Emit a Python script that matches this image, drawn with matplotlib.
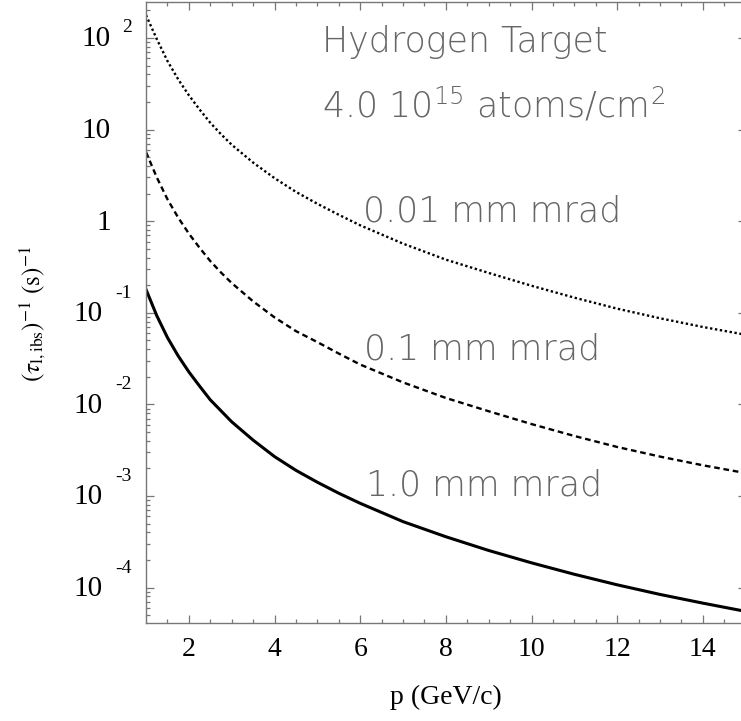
import numpy as np
import matplotlib
matplotlib.use("Agg")
import matplotlib.pyplot as plt

plt.rcParams['mathtext.fontset'] = 'stix'
plt.rcParams['font.family'] = ['Liberation Serif', 'DejaVu Serif']

# ---- data (log10 of the rate, 1/s) ----
p_gev = [1.0, 1.25, 1.5, 1.75, 2.0, 2.25, 2.5, 2.75, 3.0, 3.5, 4.0, 4.5, 5.0, 5.5,
         6.0, 7.0, 8.0, 9.0, 10.0, 11.0, 12.0, 13.0, 14.0, 15.0]
log_rate_001 = [2.25, 1.99, 1.75, 1.55, 1.375, 1.22, 1.075, 0.95, 0.835, 0.64, 0.47,
                0.32, 0.19, 0.07, -0.045, -0.245, -0.42, -0.565, -0.705, -0.835,
                -0.955, -1.06, -1.155, -1.24]
log_rate_01 = [0.755, 0.48, 0.24, 0.04, -0.135, -0.29, -0.435, -0.56, -0.675, -0.875,
               -1.05, -1.20, -1.32, -1.445, -1.565, -1.76, -1.93, -2.075, -2.215,
               -2.345, -2.465, -2.57, -2.665, -2.75]
log_rate_10 = [-0.745, -1.03, -1.27, -1.47, -1.645, -1.80, -1.95, -2.07, -2.19, -2.39,
               -2.57, -2.72, -2.85, -2.97, -3.08, -3.28, -3.445, -3.595, -3.73,
               -3.855, -3.97, -4.075, -4.17, -4.26]

curve_labels = ["0.01 mm mrad", "0.1 mm mrad", "1.0 mm mrad"]
title_lines = ["Hydrogen Target", r"4.0 10$^{\mathregular{15}}$ atoms/cm$^{\mathregular{2}}$"]

xtick_vals = [2, 4, 6, 8, 10, 12, 14]
ytick_vals = [1e-4, 1e-3, 1e-2, 1e-1, 1, 10, 100]
ytick_base = ["10", "10", "10", "10", "1", "10", "10"]
ytick_exp = ["-4", "-3", "-2", "-1", "", "", "2"]

xlabel = "p (GeV/c)"
ylabel = r"$(\tau_{\mathrm{l,ibs}})^{-1}\ (\mathrm{s})^{-1}$"

# ---- figure ----
W, H = 741, 721
fig = plt.figure(figsize=(W / 100, H / 100), dpi=100)
ax_l, ax_r, ax_t, ax_b = 146, 745.75, 2, 623.3
ax = fig.add_axes([ax_l / W, 1 - ax_b / H, (ax_r - ax_l) / W, (ax_b - ax_t) / H])

p = np.array(p_gev)
ax.plot(p, 10 ** np.array(log_rate_001), color='black', lw=1.7, ls=(0, (1, 1.1)))
ax.plot(p, 10 ** np.array(log_rate_01), color='black', lw=1.7, ls=(0, (2.4, 1.6)))
ax.plot(p, 10 ** np.array(log_rate_10), color='black', lw=2.2, ls='-')

ax.set_yscale('log')
ax.set_xlim(1, 15)
ymin_log, ymax_log = -4.39, 2.393
ax.set_ylim(10 ** ymin_log, 10 ** ymax_log)

spine_col = '#777777'
for s in ax.spines.values():
    s.set_color(spine_col)
    s.set_linewidth(1.0)

ax.set_xticks(xtick_vals)
ax.set_xticks(np.arange(1.5, 15, 0.5), minor=True)
ax.tick_params(axis='both', which='both', direction='in', top=True, right=True,
               color=spine_col, width=0.9)
ax.tick_params(axis='both', which='major', length=6)
ax.tick_params(axis='both', which='minor', length=3)
ax.tick_params(axis='x', which='major', labelsize=20, pad=10)
ax.set_yticks(ytick_vals)
ax.set_yticklabels([""] * len(ytick_vals))
ax.yaxis.set_minor_formatter(matplotlib.ticker.NullFormatter())


def fig_xy(px, py):
    return px / W, 1 - py / H


# y tick labels placed as base + exponent
for v, b, e in zip(ytick_vals, ytick_base, ytick_exp):
    py = ax_b - (np.log10(v) - ymin_log) / (ymax_log - ymin_log) * (ax_b - ax_t)
    if e.startswith('-'):
        base_right, exp_dy = 103, 21
    else:
        base_right, exp_dy = 111, 12
    fig.text(*fig_xy(base_right, py + 1.5), b, ha='right', va='center', fontsize=21)
    if e:
        fig.text(*fig_xy(132, py + 1.5 - exp_dy), e, ha='right', va='center', fontsize=14)

fig.text(*fig_xy(446, 697), xlabel, ha='center', va='center', fontsize=20)
fig.text(*fig_xy(33, 314), ylabel, ha='center', va='center', rotation=90, fontsize=18)

ann_kw = dict(color='#666666', fontsize=25, fontweight=200,
              family=['DejaVu Sans'], va='baseline', ha='left')
fig.text(*fig_xy(321.7, 51.7), title_lines[0], **ann_kw)
fig.text(*fig_xy(321.7, 116.7), title_lines[1], **ann_kw)
fig.text(*fig_xy(363, 221.7), curve_labels[0], **ann_kw)
fig.text(*fig_xy(364, 359), curve_labels[1], **ann_kw)
fig.text(*fig_xy(366, 496), curve_labels[2], **ann_kw)

fig.savefig('out.png', dpi=100)
